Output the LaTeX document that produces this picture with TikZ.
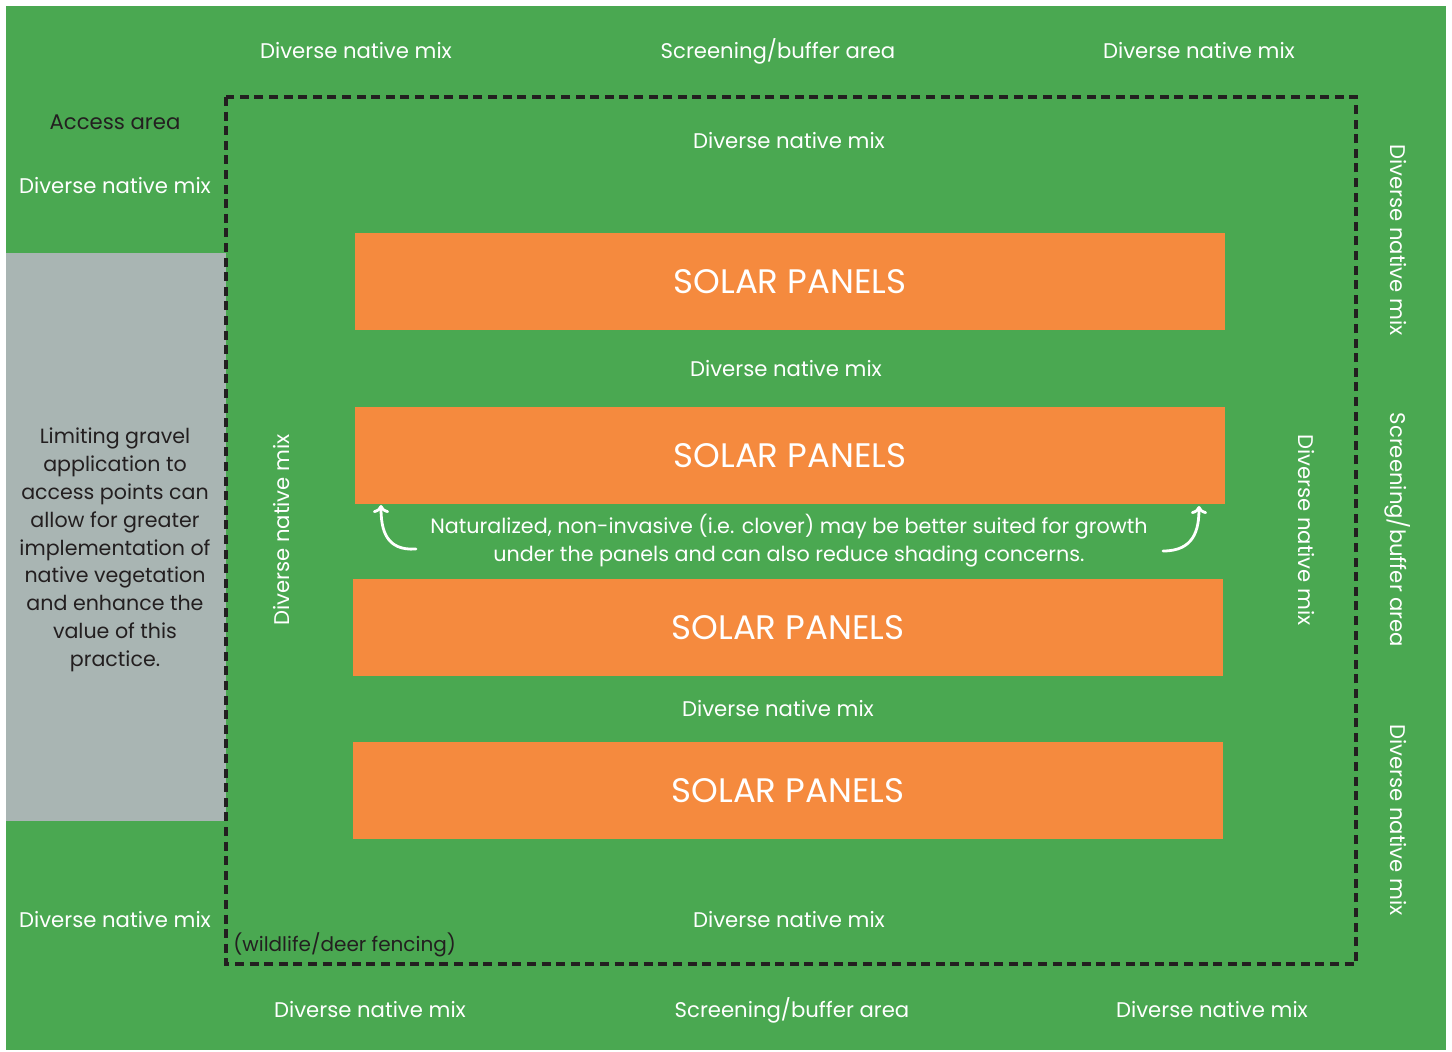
\documentclass[tikz,border=0pt]{standalone}
\usepackage{fontspec}
\setmainfont{Poppins}
\usetikzlibrary{arrows.meta}
\definecolor{fieldgreen}{HTML}{4AA851}
\definecolor{panelorange}{HTML}{F58A3E}
\definecolor{gravelgray}{HTML}{A9B5B3}
\definecolor{inkdark}{HTML}{231F20}

\tikzset{
  mix/.style={text=white, font=\fontsize{10.6}{12}\selectfont, inner sep=0pt},
  darklabel/.style={text=inkdark, font=\fontsize{10.6}{12}\selectfont, inner sep=0pt},
  panel/.style={fill=panelorange, draw=none, text=white, font=\fontsize{17}{19}\selectfont,
    minimum width=435pt, minimum height=48.5pt, inner sep=0pt},
  fence/.style={draw=inkdark, line width=1.6pt, dash pattern=on 4.5pt off 2.8pt},
  curvearrow/.style={white, line width=1.4pt, line cap=round, -{To[length=4pt,width=8pt]}}
}

\begin{document}
\begin{tikzpicture}[x=0.5pt, y=-0.5pt]
  \useasboundingbox (0,0) rectangle (1452,1051);
  \fill[white] (0,0) rectangle (1452,1051);
  % field and access strip
  \fill[fieldgreen] (6,6) rectangle (1446,1050);
  \fill[gravelgray] (6,253) rectangle (226,821);
  \draw[fence] (226,97) rectangle (1356,964);

  % panel rows
  \node[panel] (row1) at (790,281.5) {SOLAR PANELS};
  \node[panel] (row2) at (790,455.5) {SOLAR PANELS};
  \node[panel] (row3) at (788,627.5) {SOLAR PANELS};
  \node[panel] (row4) at (788,790.5) {SOLAR PANELS};

  % outer band
  \node[mix] (topL) at (356,51) {Diverse native mix};
  \node[mix] (topM) at (778,51) {Screening/buffer area};
  \node[mix] (topR) at (1199,51) {Diverse native mix};
  \node[mix] (botL) at (370,1010) {Diverse native mix};
  \node[mix] (botM) at (792,1010) {Screening/buffer area};
  \node[mix] (botR) at (1212,1010) {Diverse native mix};
  \node[mix, rotate=-90] (sideR1) at (1398,240) {Diverse native mix};
  \node[mix, rotate=-90] (sideR2) at (1398,530) {Screening/buffer area};
  \node[mix, rotate=-90] (sideR3) at (1398,820) {Diverse native mix};
  \node[darklabel] (access) at (115,122) {Access area};
  \node[mix] (accessmix) at (115,186) {Diverse native mix};
  \node[mix] (cornermix) at (115,920) {Diverse native mix};
  \node[darklabel, align=center, font=\fontsize{10.3}{13.9}\selectfont] (gravel) at (115,550)
    {Limiting gravel\\application to\\access points can\\allow for greater\\implementation of\\native vegetation\\and enhance the\\value of this\\practice.};

  % inside the fence
  \node[mix] (inTop) at (789,141) {Diverse native mix};
  \node[mix] (gap12) at (786,369) {Diverse native mix};
  \node[mix] (gap34) at (778,709) {Diverse native mix};
  \node[mix] (inBot) at (789,920) {Diverse native mix};
  \node[mix, rotate=90] (inLeft) at (282,530) {Diverse native mix};
  \node[mix, rotate=-90] (inRight) at (1306,530) {Diverse native mix};
  \node[darklabel, anchor=west, font=\fontsize{10}{12}\selectfont] (fencing) at (233,945) {(wildlife/deer fencing)};
  \node[mix, align=center, font=\fontsize{10.35}{14}\selectfont] (note) at (789,541)
    {Naturalized, non-invasive (i.e. clover) may be better suited for growth\\under the panels and can also reduce shading concerns.};

  % arrows to the panel row
  \coordinate (tipL) at (381,505);
  \coordinate (tipR) at (1199,506);
  \coordinate (tailL) at (416,549);
  \coordinate (tailR) at (1163,551);
  \draw[curvearrow] (tailL) .. controls (386,551) and (381,530) .. (tipL);
  \draw[curvearrow] (tailR) .. controls (1194,551) and (1199,530) .. (tipR);
\end{tikzpicture}
\end{document}
